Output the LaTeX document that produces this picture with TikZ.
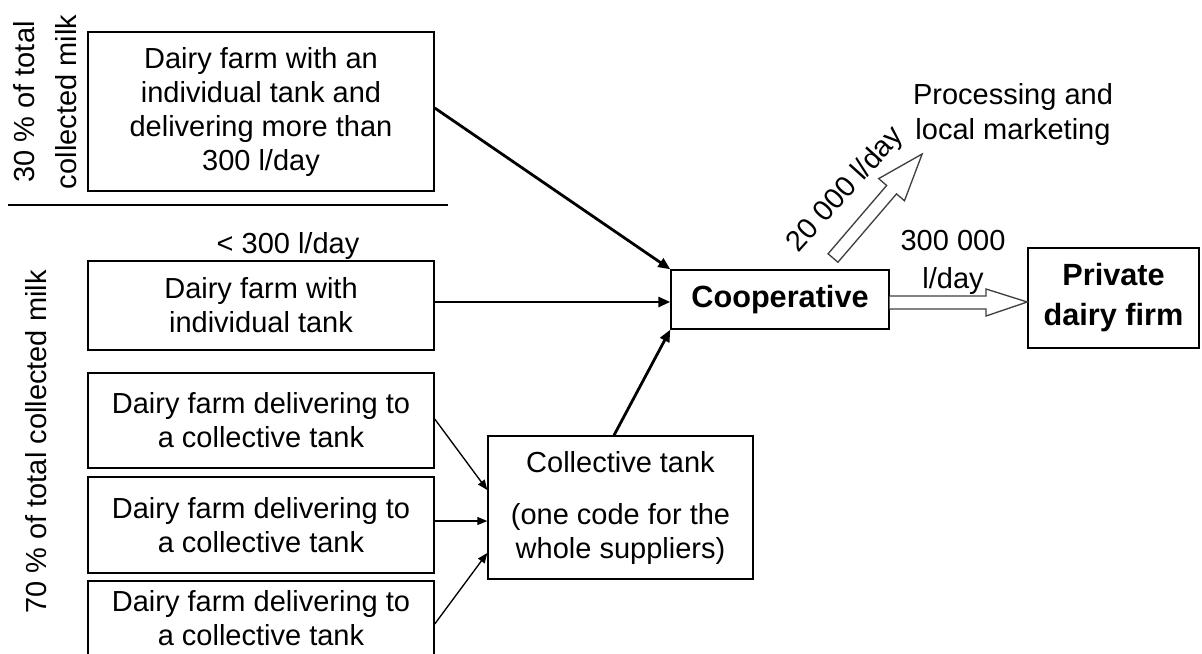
\documentclass[tikz,border=0pt]{standalone}
\usepackage{fontspec}
\setmainfont{Liberation Sans}
\usetikzlibrary{arrows.meta,calc}
\begin{document}
\begin{tikzpicture}[x=0.75pt,y=-0.75pt,
  txt/.style={inner sep=0pt, align=center, font=\fontsize{21.75pt}{25.5pt}\selectfont},
  box/.style={txt, draw, line width=1.1pt},
  farm/.style={box, minimum width=259.5pt},
  bigbox/.style={box, font=\fontsize{23pt}{30pt}\selectfont\bfseries},
  thickarr/.style={line width=2.1pt, -{Triangle[length=9pt,width=7.5pt]}},
  thinarr/.style={line width=1pt, -{Triangle[length=7.5pt,width=6pt]}},
  hollow/.style={draw=black!75, line width=1pt, fill=white, line join=miter},
  sep/.style={line width=1.1pt}
]
\useasboundingbox (0,0) rectangle (1202,653);
\clip (0,0) rectangle (1202,653);

% farm boxes
\node[farm, minimum height=119.25pt] (b1) at (261,111.5)
  {Dairy farm with an\\individual tank and\\delivering more than\\300 l/day};
\node[farm, minimum height=66.75pt] (b2) at (261,305.5)
  {Dairy farm with\\individual tank};
\node[farm, minimum height=71.25pt] (b3) at (261,420.5)
  {Dairy farm delivering to\\a collective tank};
\node[farm, minimum height=72pt] (b4) at (261,525)
  {Dairy farm delivering to\\a collective tank};
\node[farm, minimum height=56.25pt] (b5) at (261,618.5)
  {Dairy farm delivering to\\a collective tank};

% collective tank
\node[box, minimum width=198.75pt, minimum height=107.25pt] (ct) at (620.5,507.5)
  {Collective tank\\[13.5pt](one code for the\\whole suppliers)};

% cooperative and private firm
\node[bigbox, minimum width=163.5pt, minimum height=44.25pt] (coop) at (780,299.5) {Cooperative};
\node[bigbox, minimum width=128.25pt, minimum height=75pt] (priv) at (1113.5,298) {Private\\dairy firm};

% side labels
\node[txt, rotate=90, font=\fontsize{21.75pt}{31.5pt}\selectfont] (l30) at (45.5,102) {30 \% of total\\collected milk};
\node[txt, rotate=90] (l70) at (36,442) {70 \% of total collected milk};
\node[txt, anchor=base] (l300) at (288,253) {< 300 l/day};
\node[txt, font=\fontsize{21.75pt}{26.25pt}\selectfont] (proc) at (1013,115) {Processing and\\local marketing};
\node[txt, font=\fontsize{21.75pt}{28pt}\selectfont] (q300) at (953,262.5) {300 000\\l/day};
\node[txt, rotate=48] (q20) at (846,190) {20 000 l/day};

% separator
\coordinate (sepL) at (8,205);
\coordinate (sepR) at (448,205);
\draw[sep] (sepL) -- (sepR);

% arrows into cooperative
\draw[thickarr] (b1.east |- 0,108) -- (coop.north west);
\draw[thickarr] (b2.east |- 0,302) -- (coop.west |- 0,302);
\draw[thickarr] (ct.north -| 614,0) -- (coop.south west);

% arrows into collective tank
\draw[thinarr] (b3.east |- 0,419) -- (ct.west |- 0,490);
\draw[thinarr] (b4.east |- 0,521) -- (ct.west |- 0,521);
\draw[thinarr] (b5.east |- 0,624) -- (ct.west |- 0,553);

% hollow arrow to private dairy firm
\draw[hollow] (coop.east |- 0,296) -- (986,296) -- (986,289) -- (priv.west |- 0,302)
  -- (986,316) -- (986,309) -- (coop.east |- 0,309);

% hollow arrow to processing
\begin{scope}[shift={(833,258)}, rotate=49.4]
  \draw[hollow] (0,-6.5) -- (90,-6.5) -- (90,-17) -- (137,0) -- (90,17) -- (90,6.5) -- (0,6.5) -- cycle;
\end{scope}
\end{tikzpicture}
\end{document}
